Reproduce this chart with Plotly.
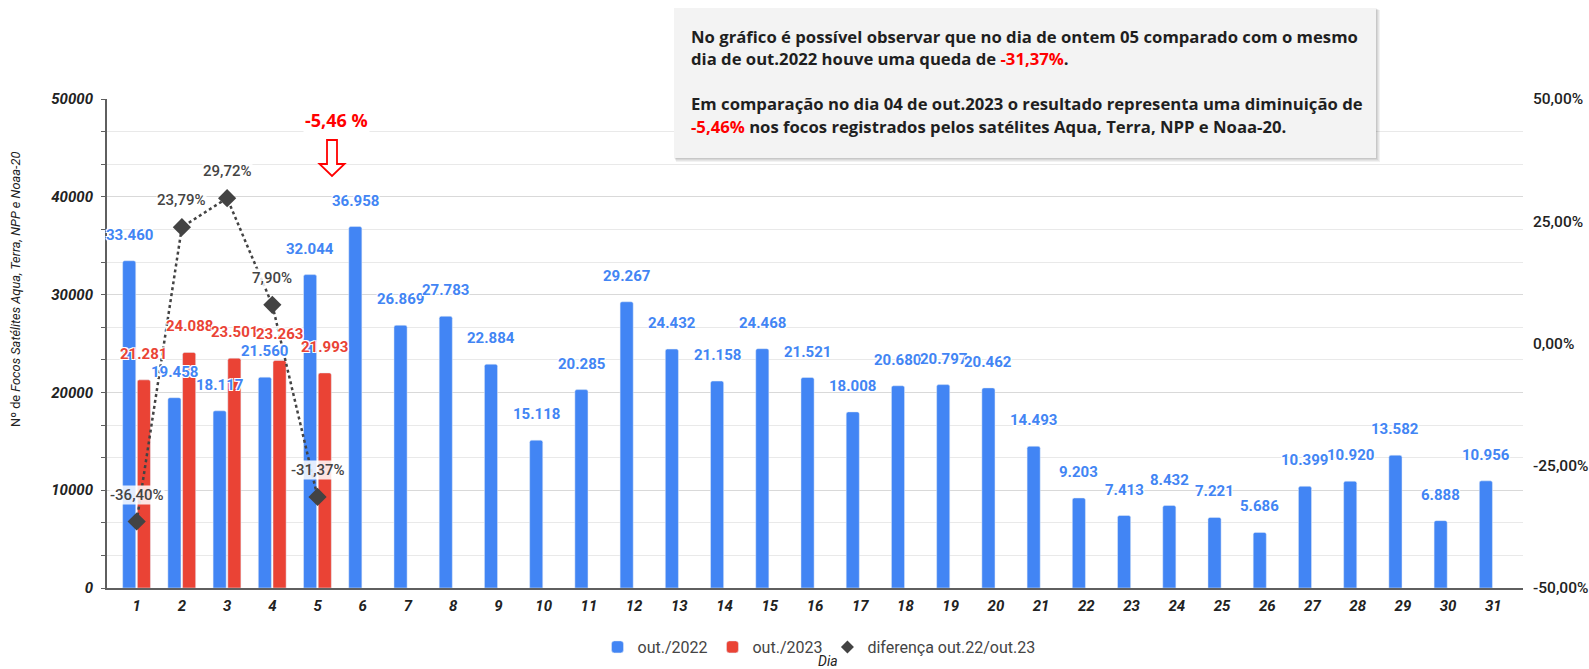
import plotly.graph_objects as go

# ---------------- data ----------------
days = list(range(1, 32))
out_2022 = [33460, 19458, 18117, 21560, 32044, 36958, 26869, 27783, 22884, 15118,
            20285, 29267, 24432, 21158, 24468, 21521, 18008, 20680, 20797, 20462,
            14493, 9203, 7413, 8432, 7221, 5686, 10399, 10920, 13582, 6888, 10956]
days_2023 = [1, 2, 3, 4, 5]
out_2023 = [21281, 24088, 23501, 23263, 21993]
diff_pct = [-36.40, 23.79, 29.72, 7.90, -31.37]
left_ticks = [0, 10000, 20000, 30000, 40000, 50000]
right_ticks = [-50, -25, 0, 25, 50]

# ---------------- styling / geometry ----------------
W, H = 1589, 669
ML, MR, MT, MB = 107, 66, 99, 81
PW, PH = W - ML - MR, H - MT - MB
BLUE, RED, DARK = "#4285f4", "#ea4335", "#434343"
BW = 0.29
BLUE_OFF, RED_OFF = -0.31, 0.015


def px(x):
    return (x - ML) / PW


def py(y):
    return (H - MB - y) / PH


def fmt_int(v):
    return f"{v:,}".replace(",", ".")


def fmt_pct(v):
    return f"{v:.2f}".replace(".", ",") + "%"


fig = go.Figure()
fig.add_trace(go.Bar(x=days, y=out_2022, name="out./2022", marker_color=BLUE,
                     width=BW, offset=BLUE_OFF, marker_cornerradius=2))
fig.add_trace(go.Bar(x=days_2023, y=out_2023, name="out./2023", marker_color=RED,
                     width=BW, offset=RED_OFF, marker_cornerradius=2))
fig.add_trace(go.Scatter(x=days_2023, y=diff_pct, yaxis="y2", mode="lines",
                         line=dict(color=DARK, width=2.5, dash="dot"), showlegend=False))
fig.add_trace(go.Scatter(x=days_2023, y=diff_pct, yaxis="y2", mode="markers",
                         marker=dict(symbol="diamond", size=14, color=DARK), showlegend=False))
fig.add_trace(go.Scatter(x=[None], y=[None], mode="markers", name="diferença out.22/out.23",
                         marker=dict(symbol="diamond", size=10, color=DARK)))

halo = "1px 1px 0 #fff, -1px -1px 0 #fff, 1px -1px 0 #fff, -1px 1px 0 #fff"
ann = []
for d, v in zip(days, out_2022):
    ann.append(dict(x=d + BLUE_OFF + BW / 2, y=v, xref="x", yref="y", text=fmt_int(v),
                    showarrow=False, yshift=26, xanchor="center", yanchor="middle",
                    font=dict(family="Roboto", size=15, color=BLUE, weight="bold", shadow=halo)))
for d, v in zip(days_2023, out_2023):
    ann.append(dict(x=d + RED_OFF + BW / 2, y=v, xref="x", yref="y", text=fmt_int(v),
                    showarrow=False, yshift=26, xanchor="center", yanchor="middle",
                    font=dict(family="Roboto", size=15, color=RED, weight="bold", shadow=halo)))
for d, v in zip(days_2023, diff_pct):
    ann.append(dict(x=d, y=v, xref="x", yref="y2", text=fmt_pct(v), showarrow=False,
                    yshift=27, xanchor="center", yanchor="middle",
                    bgcolor="rgba(255,255,255,0.85)", borderpad=0,
                    font=dict(family="Roboto", size=15, color="#444444", weight=500)))

# highlighted change
ann.append(dict(x=px(336), y=py(120), xref="paper", yref="paper", text="-5,46 %",
                showarrow=False, xanchor="center", yanchor="middle", bgcolor="#ffffff", borderpad=1,
                font=dict(family="Open Sans", size=18, color="#ff0000", weight="bold")))

# text box lines
RED_SPAN = "<span style='color:#ff0000'>{}</span>"
box_lines = [
    "No gráfico é possível observar que no dia de ontem 05 comparado com o mesmo",
    "dia de out.2022 houve uma queda de " + RED_SPAN.format("-31,37%") + ".",
    "Em comparação no dia 04 de out.2023 o resultado representa uma diminuição de",
    RED_SPAN.format("-5,46%") + " nos focos registrados pelos satélites Aqua, Terra, NPP e Noaa-20.",
]
line_y = [36, 59, 104, 127]
for t, yy in zip(box_lines, line_y):
    ann.append(dict(x=px(689), y=py(yy), xref="paper", yref="paper", text=t, showarrow=False,
                    xanchor="left", yanchor="middle",
                    font=dict(family="Open Sans", size=16.7, color="#1f1f1f", weight="bold")))

# axis titles
ann.append(dict(x=px(15), y=py(290), xref="paper", yref="paper", textangle=-90, showarrow=False,
                xanchor="center", yanchor="middle",
                text="Nº de <i>Focos Satélites Aqua, Terra, NPP e Noaa-20</i>",
                font=dict(family="Roboto", size=12.8, color="#222222")))
ann.append(dict(x=px(828), y=py(661), xref="paper", yref="paper", text="<i>Dia</i>", showarrow=False,
                xanchor="center", yanchor="middle",
                font=dict(family="Roboto", size=14, color="#222222")))

shapes = []
# box shadow + box
BX0, BX1, BY0, BY1 = 674, 1376, 8, 158
for i, op in enumerate([0.05, 0.05, 0.06, 0.07]):
    o = 4 - i
    shapes.append(dict(type="rect", xref="paper", yref="paper", layer="above",
                       x0=px(BX0 + o * 0.5), x1=px(BX1 + o), y0=py(BY1 + o), y1=py(BY0 + o * 0.5),
                       fillcolor=f"rgba(0,0,0,{op})", line=dict(width=0)))
shapes.append(dict(type="rect", xref="paper", yref="paper", layer="above",
                   x0=px(BX0), x1=px(BX1), y0=py(BY1), y1=py(BY0),
                   fillcolor="#f3f3f3", line=dict(width=0)))
# hollow down arrow
arrow_pts = [(327, 140), (337, 140), (337, 164), (344.5, 164), (332, 176), (319.5, 164), (327, 164)]
path = "M " + " L ".join(f"{px(a):.5f},{py(b):.5f}" for a, b in arrow_pts) + " Z"
shapes.append(dict(type="path", xref="paper", yref="paper", path=path, layer="above",
                   fillcolor="#ffffff", line=dict(color="#ff0000", width=1.8)))

fig.update_layout(
    width=W, height=H, autosize=False,
    margin=dict(l=ML, r=MR, t=MT, b=MB, autoexpand=False),
    paper_bgcolor="white", plot_bgcolor="white",
    barmode="overlay",
    showlegend=True,
    legend=dict(orientation="h", x=px(819), xanchor="center", y=py(647), yanchor="middle",
                font=dict(family="Roboto", size=16, color="#444444"), itemwidth=30,
                bgcolor="rgba(0,0,0,0)"),
    xaxis=dict(range=[0.344, 31.656], tickmode="array", tickvals=days, automargin=False,
               ticktext=[str(d) for d in days], showgrid=False, zeroline=False,
               showline=True, linecolor="#5f5f5f", linewidth=2, ticks="",
               ticklabelstandoff=3,
               tickfont=dict(family="Roboto", size=15, color="#222222", weight="bold", style="italic")),
    yaxis=dict(range=[0, 50000], tickmode="array", tickvals=left_ticks, automargin=False,
               ticktext=[str(v) for v in left_ticks], showgrid=True, gridcolor="#d9d9d9",
               zeroline=False, showline=True, linecolor="#5f5f5f", linewidth=2,
               ticks="outside", ticklen=4, tickcolor="#5f5f5f", ticklabelstandoff=5,
               minor=dict(dtick=10000 / 3, tick0=0, showgrid=True, gridcolor="#e9e9e9",
                          ticks="outside", ticklen=4, tickcolor="#5f5f5f"),
               tickfont=dict(family="Roboto", size=15, color="#222222", weight="bold", style="italic")),
    yaxis2=dict(range=[-50, 50], overlaying="y", side="right", tickmode="array", automargin=False,
                tickvals=right_ticks, ticktext=[fmt_pct(v) for v in right_ticks],
                showgrid=False, zeroline=False, showline=False, ticks="",
                ticklabelstandoff=9,
                tickfont=dict(family="Roboto", size=15.5, color="#222222", weight=500)),
    annotations=ann,
    shapes=shapes,
)

fig.write_html("out.html", config={"displayModeBar": False},
               post_script="document.body.style.margin='0';")
